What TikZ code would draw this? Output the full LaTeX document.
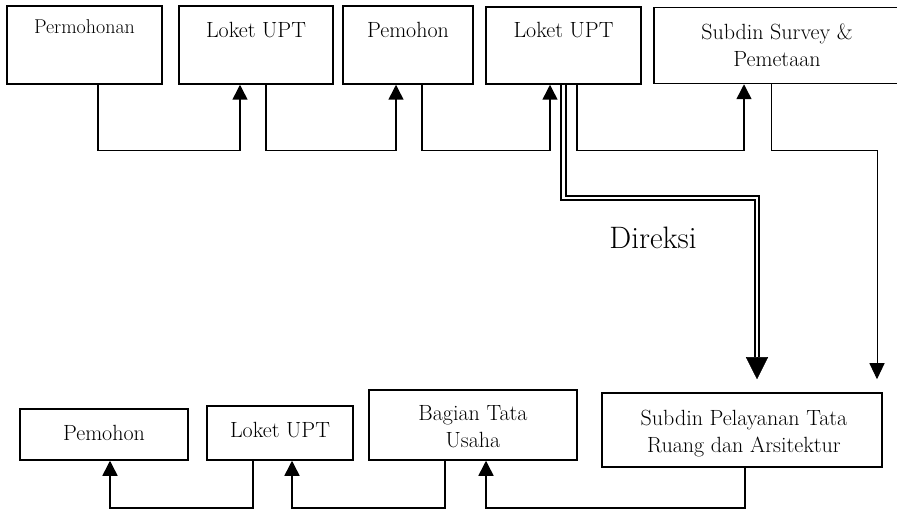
\documentclass[tikz,border=0pt]{standalone}
\usepackage{fontspec}
\usepackage{tikz}
\usetikzlibrary{calc, arrows.meta, positioning}

\begin{document}
\begin{tikzpicture}[x=1pt, y=-1pt,
  every node/.style={font=\fontsize{22}{27}\selectfont},
  box/.style={draw, line width=1.5pt, inner sep=0pt},
  txt/.style={align=center, inner sep=0pt, anchor=base},
  conn/.style={line width=1.5pt, -{Triangle[length=15pt, width=15pt]}},
  thinconn/.style={line width=1pt, -{Triangle[length=16pt, width=15pt]}},
  dblconn/.style={double, line width=2pt, double distance=2.4pt}]

\useasboundingbox (0,0) rectangle (897,510);

% ------------------------------------------------------------------
% UPPER ROW of offices
% ------------------------------------------------------------------
\node[box, minimum width=155pt, minimum height=78pt] (perm) at (84.5,45) {};
\node[box, minimum width=154pt, minimum height=78pt] (loketA) at (256,45) {};
\node[box, minimum width=130pt, minimum height=78pt] (pemohonA) at (408,45) {};
\node[box, minimum width=155pt, minimum height=77pt] (loketB) at (563.5,45.5) {};
\node[box, minimum width=246pt, minimum height=76pt] (survey) at (777,45.5) {};

\node[txt, font=\fontsize{20}{24}\selectfont] (perm-t) at (84.5,34) {Permohonan};
\node[txt] (loketA-t) at (256,38) {Loket UPT};
\node[txt] (pemohonA-t) at (408,38) {Pemohon};
\node[txt] (loketB-t) at (563.5,38) {Loket UPT};
\node[txt] (survey-t) at (777,67) {Subdin Survey \&\\Pemetaan};

% ------------------------------------------------------------------
% LOWER ROW of offices
% ------------------------------------------------------------------
\node[box, minimum width=168pt, minimum height=51pt] (pemohonB) at (104,434.5) {};
\node[box, minimum width=146pt, minimum height=54pt] (loketC) at (280,433) {};
\node[box, minimum width=208pt, minimum height=70pt] (usaha) at (473,425) {};
\node[box, minimum width=280pt, minimum height=74pt] (pelayanan) at (742,430) {};

\node[txt] (pemohonB-t) at (104,441) {Pemohon};
\node[txt] (loketC-t) at (280,437) {Loket UPT};
\node[txt] (usaha-t) at (473,447) {Bagian Tata\\Usaha};
\node[txt] (pelayanan-t) at (744,453) {Subdin Pelayanan Tata\\Ruang dan Arsitektur};

% ------------------------------------------------------------------
% FLOW along the upper row
% ------------------------------------------------------------------
\draw[conn] ([xshift=13.5pt]perm.south) -- ++(0,66) -| ([xshift=-16pt]loketA.south);
\draw[conn] ([xshift=10pt]loketA.south) -- ++(0,66) -| ([xshift=-12pt]pemohonA.south);
\draw[conn] ([xshift=14pt]pemohonA.south) -- ++(0,66) -| ([xshift=-13.5pt]loketB.south);
\draw[conn] ([xshift=13.5pt]loketB.south) -- ++(0,66) -| ([xshift=-33pt]survey.south);

% survey down to the lower row
\draw[thinconn, shorten >=13pt] ([xshift=-6pt]survey.south) -- ++(0,66) -| ([xshift=135pt]pelayanan.north);

% Direksi (double line)
\draw[dblconn] (loketB.south) -- ++(0,113) -| ([xshift=15pt, yshift=35pt]pelayanan.north) coordinate (dir-e);
\draw[line width=0.4pt, -{Triangle[length=22pt, width=22pt]}] (dir-e) -- ([xshift=15pt, yshift=13pt]pelayanan.north);
\node[font=\fontsize{31}{36}\selectfont] (direksi) at (653,238) {Direksi};

% ------------------------------------------------------------------
% FLOW back along the lower row
% ------------------------------------------------------------------
\draw[conn] ([xshift=3pt]pelayanan.south) -- ++(0,40) -| ([xshift=13pt]usaha.south);
\draw[conn] ([xshift=-28pt]usaha.south) -- ++(0,47) -| ([xshift=12pt]loketC.south);
\draw[conn] ([xshift=-27pt]loketC.south) -- ++(0,47) -| ([xshift=6pt]pemohonB.south);

\end{tikzpicture}
\end{document}
